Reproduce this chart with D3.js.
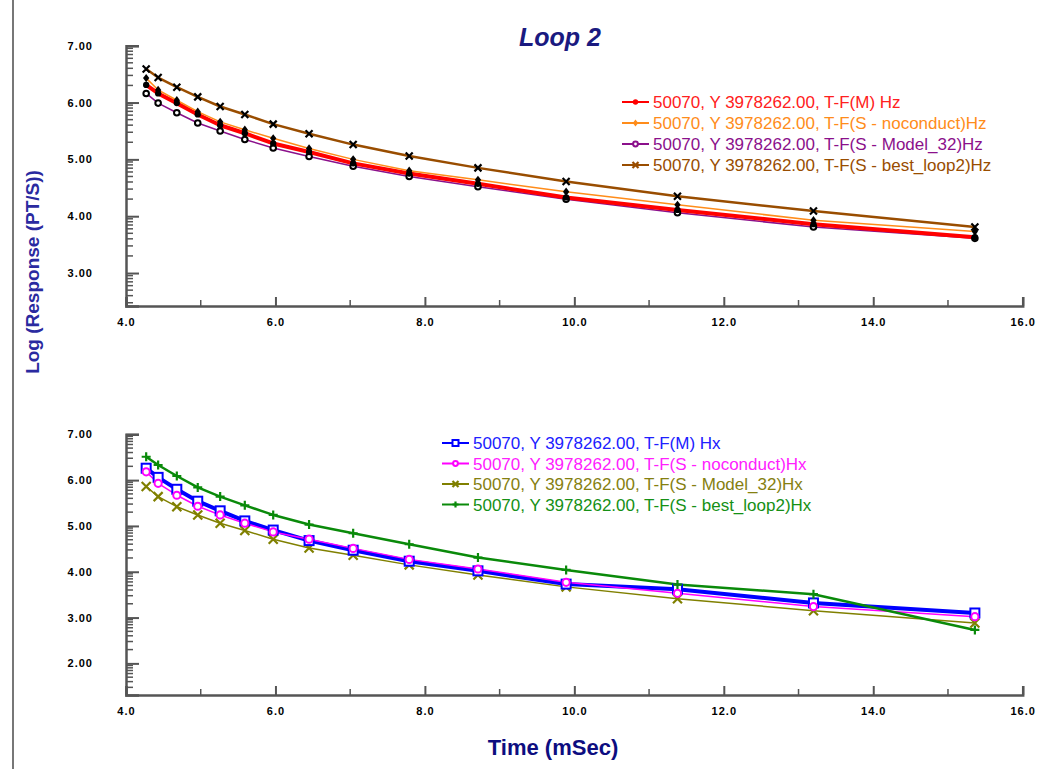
<!DOCTYPE html>
<html>
<head>
<meta charset="utf-8">
<script src="https://cdn.jsdelivr.net/npm/d3@7"></script>
<style>
  body { margin: 0; background: #fff; }
  svg { display: block; font-family: 'Liberation Sans', Arial, sans-serif; }
</style>
</head>
<body>
<svg width="1059" height="769"></svg>
<script>
const svg = d3.select('svg');

// time of each gate (mSec)
const time = [4.27, 4.43, 4.68, 4.96, 5.26, 5.59, 5.97, 6.45, 7.04, 7.79, 8.71, 9.89, 11.38, 13.2, 15.36];

// top panel, Hz
const hzM       = [6.31, 6.16, 5.99, 5.79, 5.60, 5.46, 5.28, 5.13, 4.93, 4.75, 4.57, 4.33, 4.11, 3.86, 3.63];
const hzNoCond  = [6.43, 6.22, 6.04, 5.84, 5.66, 5.52, 5.37, 5.19, 5.00, 4.80, 4.64, 4.43, 4.20, 3.93, 3.73];
const hzModel32 = [6.16, 5.99, 5.82, 5.64, 5.50, 5.35, 5.20, 5.05, 4.88, 4.70, 4.52, 4.30, 4.06, 3.81, 3.61];
const hzBest    = [6.59, 6.44, 6.27, 6.10, 5.93, 5.79, 5.62, 5.45, 5.26, 5.06, 4.85, 4.61, 4.35, 4.09, 3.81];

// bottom panel, Hx
const hxM       = [6.26, 6.06, 5.80, 5.54, 5.33, 5.11, 4.91, 4.68, 4.47, 4.23, 4.02, 3.73, 3.62, 3.32, 3.10];
const hxNoCond  = [6.18, 5.93, 5.67, 5.43, 5.24, 5.06, 4.87, 4.71, 4.51, 4.27, 4.06, 3.77, 3.53, 3.24, 3.02];
const hxModel32 = [5.86, 5.64, 5.42, 5.24, 5.06, 4.90, 4.71, 4.52, 4.36, 4.15, 3.93, 3.67, 3.41, 3.15, 2.88];
const hxBest    = [6.51, 6.33, 6.09, 5.84, 5.64, 5.45, 5.24, 5.03, 4.84, 4.60, 4.31, 4.04, 3.72, 3.51, 2.73];

const xTicks = [4, 6, 8, 10, 12, 14, 16];
const yTicksTop = [3, 4, 5, 6, 7];
const yTicksBottom = [2, 3, 4, 5, 6, 7];

const prefix = '50070, Y 3978262.00, ';
const topSeries = [
  {name: prefix + 'T-F(M) Hz', values: hzM, color: '#ff0000', text: '#ff2020', width: 4, marker: 'dot', mcolor: '#000'},
  {name: prefix + 'T-F(S - noconduct)Hz', values: hzNoCond, color: '#ff8c1a', text: '#ff8c1a', width: 1.5, marker: 'diamond', mcolor: '#000'},
  {name: prefix + 'T-F(S - Model_32)Hz', values: hzModel32, color: '#8b108b', text: '#8b108b', width: 1.5, marker: 'ring', mcolor: '#000'},
  {name: prefix + 'T-F(S - best_loop2)Hz', values: hzBest, color: '#994d00', text: '#994d00', width: 2.5, marker: 'x', mcolor: '#000'}
];
const bottomSeries = [
  {name: prefix + 'T-F(M) Hx', values: hxM, color: '#0000ff', text: '#2020ff', width: 4, marker: 'square', mcolor: '#0000ff'},
  {name: prefix + 'T-F(S - noconduct)Hx', values: hxNoCond, color: '#ff00ff', text: '#ff20ff', width: 1.5, marker: 'ring', mcolor: '#ff00ff'},
  {name: prefix + 'T-F(S - Model_32)Hx', values: hxModel32, color: '#808000', text: '#858010', width: 1.5, marker: 'x', mcolor: '#808000'},
  {name: prefix + 'T-F(S - best_loop2)Hx', values: hxBest, color: '#0a8a0a', text: '#159015', width: 2.5, marker: 'plus', mcolor: '#0a8a0a'}
];

const axisColor = '#555';
const xScale = d3.scaleLinear().domain([4, 16]).range([126, 1022.7]);

const drawMarker = (sel, type, color, size) => {
  const s = size;
  if (type === 'dot') {
    sel.append('circle').attr('r', s * 0.45).attr('fill', color);
  } else if (type === 'ring') {
    sel.append('circle').attr('r', s * 0.4).attr('fill', '#fff')
      .attr('stroke', color).attr('stroke-width', 2);
  } else if (type === 'diamond') {
    sel.append('path').attr('d', `M0,${-s * 0.6}L${s * 0.45},0L0,${s * 0.6}L${-s * 0.45},0Z`).attr('fill', color);
  } else if (type === 'square') {
    sel.append('rect').attr('x', -s / 2).attr('y', -s / 2).attr('width', s).attr('height', s)
      .attr('fill', '#fff').attr('stroke', color).attr('stroke-width', 2);
  } else if (type === 'x') {
    sel.append('path').attr('d', `M${-s / 2},${-s / 2}L${s / 2},${s / 2}M${-s / 2},${s / 2}L${s / 2},${-s / 2}`)
      .attr('stroke', color).attr('stroke-width', 2.2);
  } else if (type === 'plus') {
    sel.append('path').attr('d', `M${-s / 2},0L${s / 2},0M0,${-s / 2}L0,${s / 2}`)
      .attr('stroke', color).attr('stroke-width', 2.2);
  }
};

const renderPanel = (opt) => {
  const yScale = d3.scaleLinear().domain(opt.yDomain).range(opt.yRange);
  const g = svg.append('g');
  const bottom = opt.yRange[0];

  // log-style minor ticks on y
  const minor = [];
  for (let i = Math.floor(opt.yDomain[0]); i < 7; i++) {
    for (let k = 2; k <= 9; k++) {
      const v = i + Math.log10(k);
      if (v >= opt.yDomain[0] && v <= opt.yDomain[1]) minor.push(v);
    }
  }
  g.selectAll('.yminor').data(minor).enter().append('line')
    .attr('x1', 126).attr('x2', 133)
    .attr('y1', d => yScale(d)).attr('y2', d => yScale(d))
    .attr('stroke', axisColor).attr('stroke-width', 1.5);

  const yAxis = d3.axisLeft(yScale)
    .tickValues(opt.yTicks)
    .tickFormat(d3.format('.2f'))
    .tickSize(-13)
    .tickPadding(33);
  const ya = g.append('g').attr('transform', 'translate(126,0)').call(yAxis);
  ya.select('.domain').attr('stroke', axisColor).attr('stroke-width', 2.5);
  ya.selectAll('.tick line').attr('stroke', axisColor).attr('stroke-width', 2);
  ya.selectAll('.tick text')
    .attr('font-size', 11).attr('font-weight', 'bold').attr('letter-spacing', 1).attr('fill', '#000');

  // x minor ticks at odd values
  g.selectAll('.xminor').data(d3.range(5, 16, 2)).enter().append('line')
    .attr('x1', d => xScale(d)).attr('x2', d => xScale(d))
    .attr('y1', bottom).attr('y2', bottom - 6)
    .attr('stroke', axisColor).attr('stroke-width', 1.5);

  const xAxis = d3.axisBottom(xScale)
    .tickValues(xTicks)
    .tickFormat(d3.format('.1f'))
    .tickSize(-9)
    .tickPadding(12);
  const xa = g.append('g').attr('transform', `translate(0,${bottom})`).call(xAxis);
  xa.select('.domain').attr('stroke', axisColor).attr('stroke-width', 2.5);
  xa.selectAll('.tick line').attr('stroke', axisColor).attr('stroke-width', 2);
  xa.selectAll('.tick text')
    .attr('font-size', 11).attr('font-weight', 'bold').attr('letter-spacing', 1).attr('fill', '#000');

  const line = d3.line()
    .x((d, i) => xScale(time[i]))
    .y(d => yScale(d));

  opt.drawOrder.forEach(idx => {
    const s = opt.series[idx];
    g.append('path').datum(s.values)
      .attr('d', line)
      .attr('fill', 'none')
      .attr('stroke', s.color)
      .attr('stroke-width', s.width)
      .attr('stroke-linejoin', 'round');
  });
  opt.drawOrder.forEach(idx => {
    const s = opt.series[idx];
    g.selectAll(null).data(s.values).enter().append('g')
      .attr('transform', (d, i) => `translate(${xScale(time[i])},${yScale(d)})`)
      .each(function () { drawMarker(d3.select(this), s.marker, s.mcolor, opt.markerSize); });
  });

  // legend
  const lg = g.append('g').attr('transform', `translate(${opt.legend[0]},${opt.legend[1]})`);
  opt.series.forEach((s, i) => {
    const row = lg.append('g').attr('transform', `translate(0,${i * opt.legendStep})`);
    row.append('line').attr('x1', 0).attr('x2', 27).attr('y1', 0).attr('y2', 0)
      .attr('stroke', s.color).attr('stroke-width', 2);
    const m = row.append('g').attr('transform', 'translate(13.5,0)');
    drawMarker(m, s.marker, s.color, 6);
    row.append('text')
      .attr('x', 31).attr('y', 0).attr('dy', '0.36em')
      .attr('font-size', 17)
      .attr('fill', s.text)
      .text(s.name);
  });
};

renderPanel({
  series: topSeries,
  drawOrder: [2, 0, 1, 3],
  yDomain: [2.42, 7],
  yRange: [306, 45.7],
  yTicks: yTicksTop,
  markerSize: 7,
  legend: [622, 102],
  legendStep: 21
});

renderPanel({
  series: bottomSeries,
  drawOrder: [2, 0, 1, 3],
  yDomain: [1.31, 7],
  yRange: [695, 434.3],
  yTicks: yTicksBottom,
  markerSize: 9,
  legend: [442, 443],
  legendStep: 20.5
});

// frame line on the left
svg.append('line')
  .attr('x1', 13).attr('x2', 13).attr('y1', 0).attr('y2', 769)
  .attr('stroke', '#777').attr('stroke-width', 2);

svg.append('text')
  .attr('x', 560).attr('y', 46)
  .attr('text-anchor', 'middle')
  .attr('font-size', 25).attr('font-weight', 'bold').attr('font-style', 'italic')
  .attr('fill', '#1a1a80')
  .text('Loop 2');

svg.append('text')
  .attr('transform', 'translate(39,272) rotate(-90)')
  .attr('text-anchor', 'middle')
  .attr('font-size', 19).attr('font-weight', 'bold')
  .attr('fill', '#2a2aa0')
  .text('Log (Response (PT/S))');

svg.append('text')
  .attr('x', 553).attr('y', 755)
  .attr('text-anchor', 'middle')
  .attr('font-size', 22).attr('font-weight', 'bold')
  .attr('fill', '#0d0d80')
  .text('Time (mSec)');
</script>
</body>
</html>
